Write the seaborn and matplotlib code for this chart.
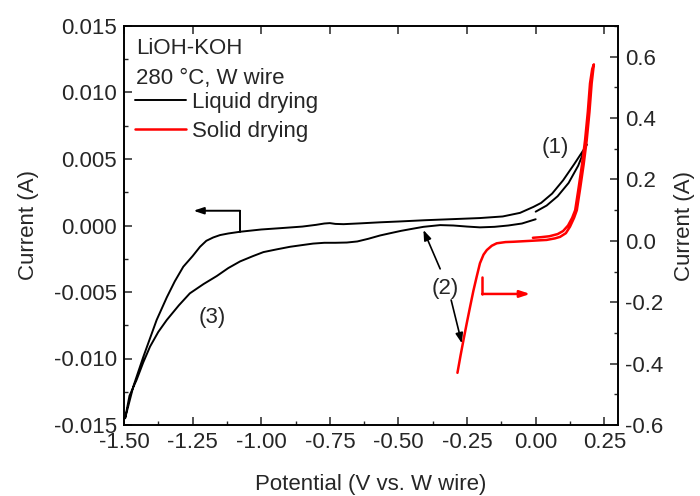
import numpy as np
import pandas as pd
import matplotlib
matplotlib.use("Agg")
import matplotlib.pyplot as plt
from matplotlib.ticker import MultipleLocator, FormatStrFormatter
import seaborn as sns

# ---- data ----
black_v = [0.000, 0.040, 0.080, 0.120, 0.155, 0.186,
           0.175, 0.140, 0.100, 0.060, 0.020, -0.008, -0.057, -0.120, -0.203, -0.300,
           -0.400, -0.500, -0.567, -0.640, -0.700, -0.730, -0.750, -0.770, -0.800,
           -0.850, -0.930, -1.000, -1.077, -1.120, -1.150, -1.175, -1.200, -1.223,
           -1.250, -1.284, -1.315, -1.344, -1.381, -1.430, -1.466, -1.496,
           -1.480, -1.454, -1.430, -1.405, -1.375, -1.344, -1.300, -1.260, -1.210,
           -1.162, -1.120, -1.077, -1.030, -0.992, -0.945, -0.895, -0.850, -0.811,
           -0.770, -0.730, -0.688, -0.650, -0.610, -0.567, -0.530, -0.490, -0.450,
           -0.409, -0.348, -0.300, -0.250, -0.203, -0.150, -0.100, -0.050, 0.000]
black_i = [0.00104, 0.00150, 0.00220, 0.00320, 0.00450, 0.00610,
           0.00570, 0.00460, 0.00340, 0.00240, 0.00170, 0.00140, 0.00095, 0.00068,
           0.00056, 0.00048, 0.00040, 0.00030, 0.00024, 0.00016, 0.00010, 0.00012,
           0.00018, 0.00015, 0.00005, -0.00008, -0.00020, -0.00030, -0.00047,
           -0.00060, -0.00072, -0.00090, -0.00115, -0.00160, -0.00230, -0.00310,
           -0.00420, -0.00540, -0.00710, -0.00990, -0.01210, -0.01450,
           -0.01280, -0.01160, -0.01030, -0.00910, -0.00800, -0.00710, -0.00600,
           -0.00510, -0.00440, -0.00380, -0.00320, -0.00270, -0.00230, -0.00200,
           -0.00180, -0.00160, -0.00147, -0.00136, -0.00130, -0.00130, -0.00128,
           -0.00120, -0.00100, -0.00075, -0.00058, -0.00040, -0.00025, -0.00010,
           0.00003, 0.00000, -0.00008, -0.00014, -0.00010, 0.00000, 0.00015, 0.00047]

red_v = [-0.285, -0.274, -0.263, -0.251, -0.239, -0.227, -0.215, -0.203, -0.190,
         -0.178, -0.160, -0.142, -0.110, -0.081, -0.020, 0.040, 0.070, 0.089,
         0.110, 0.125, 0.140, 0.150, 0.162, 0.175, 0.186, 0.196, 0.204, 0.212,
         0.206, 0.198, 0.190, 0.180, 0.169, 0.156, 0.144, 0.133, 0.118, 0.100,
         0.080, 0.050, 0.020, -0.010]
red_i = [-0.430, -0.375, -0.323, -0.268, -0.215, -0.163, -0.117, -0.073, -0.045,
         -0.030, -0.016, -0.008, -0.004, -0.003, 0.000, 0.003, 0.008, 0.013,
         0.025, 0.046, 0.075, 0.100, 0.170, 0.250, 0.328, 0.420, 0.513, 0.575,
         0.560, 0.513, 0.420, 0.328, 0.250, 0.170, 0.100, 0.075, 0.050, 0.032,
         0.022, 0.015, 0.012, 0.010]

series_labels = ["Liquid drying", "Solid drying"]
x_ticks = [-1.50, -1.25, -1.00, -0.75, -0.50, -0.25, 0.00, 0.25]
left_ticks = [-0.015, -0.010, -0.005, 0.000, 0.005, 0.010, 0.015]
right_ticks = [-0.6, -0.4, -0.2, 0.0, 0.2, 0.4, 0.6]

# ---- style ----
sns.set_style("ticks")
plt.rcParams["font.family"] = ["Liberation Sans", "DejaVu Sans"]
plt.rcParams["axes.unicode_minus"] = False
FS = 16

fig = plt.figure(figsize=(7.0, 4.96), dpi=100)
ax = fig.add_axes([124 / 700, 1 - 425 / 496, 494 / 700, 399 / 496])
ax2 = ax.twinx()

df_black = pd.DataFrame({"V": black_v, "I": black_i})
df_red = pd.DataFrame({"V": red_v, "I": red_i})

sns.lineplot(data=df_black, x="V", y="I", sort=False, estimator=None,
             color="black", lw=1.4, ax=ax)
sns.lineplot(data=df_red, x="V", y="I", sort=False, estimator=None,
             color="#ff0000", lw=1.8, ax=ax2)
h_black = ax.lines[-1]
h_red = ax2.lines[-1]

ax.set_xlim(-1.5, 0.3)
ax.set_ylim(-0.015, 0.015)
ax2.set_ylim(-0.6, 0.7)

ax.set_xticks(x_ticks)
ax.set_yticks(left_ticks)
ax2.set_yticks(right_ticks)
ax.xaxis.set_major_formatter(FormatStrFormatter("%.2f"))
ax.yaxis.set_major_formatter(FormatStrFormatter("%.3f"))
ax2.yaxis.set_major_formatter(FormatStrFormatter("%.1f"))
ax.xaxis.set_minor_locator(MultipleLocator(0.125))
ax.yaxis.set_minor_locator(MultipleLocator(0.0025))
ax2.yaxis.set_minor_locator(MultipleLocator(0.1))

for a in (ax, ax2):
    for s in a.spines.values():
        s.set_linewidth(1.2)
        s.set_color("black")
ax.tick_params(axis="x", which="major", direction="in", top=True, length=6,
               width=1.1, labelsize=FS, pad=5)
ax.tick_params(axis="x", which="minor", direction="in", top=False, length=3, width=1.0)
ax.tick_params(axis="y", which="major", direction="in", right=False, length=6,
               width=1.1, labelsize=FS, pad=5)
ax.tick_params(axis="y", which="minor", direction="in", right=False, length=3, width=1.0)
ax2.tick_params(axis="y", which="major", direction="in", length=6, width=1.1,
                labelsize=FS, pad=5)
ax2.tick_params(axis="y", which="minor", direction="in", length=3, width=1.0)

ax.set_xlabel("Potential (V vs. W wire)", fontsize=FS, labelpad=15)
ax.set_ylabel("Current (A)", fontsize=FS, labelpad=11)
ax2.set_ylabel("Current (A)", fontsize=FS, labelpad=8, rotation=90)

# text block and legend
ax.text(0.024, 0.944, "LiOH-KOH", transform=ax.transAxes, fontsize=FS,
        ha="left", va="center")
ax.text(0.024, 0.869, "280 \u00b0C, W wire", transform=ax.transAxes, fontsize=FS,
        ha="left", va="center")
leg = ax2.legend([h_black, h_red], series_labels, loc="upper left",
                 bbox_to_anchor=(0.022, 0.835), frameon=False, fontsize=FS,
                 handlelength=2.3, handletextpad=0.26, labelspacing=0.36,
                 borderpad=0, borderaxespad=0)

# annotations
ax.text(0.071, 0.0059, "(1)", fontsize=FS, ha="center", va="center")
ax.text(-0.330, -0.0047, "(2)", fontsize=FS, ha="center", va="center")
ax.text(-1.179, -0.00688, "(3)", fontsize=FS, ha="center", va="center")

arrow_kw = dict(arrowstyle="-|>,head_length=0.6,head_width=0.22", color="black",
                lw=1.2, shrinkA=0, shrinkB=0)
ax.annotate("", xy=(-0.409, -0.00034), xytext=(-0.348, -0.00326), arrowprops=arrow_kw)
ax.annotate("", xy=(-0.269, -0.00886), xytext=(-0.308, -0.0056), arrowprops=arrow_kw)

# axis-direction arrows
ax.plot([-1.077, -1.077], [-0.00047, 0.00111], color="black", lw=1.4)
ax.annotate("", xy=(-1.247, 0.00111), xytext=(-1.077, 0.00111),
            arrowprops=dict(arrowstyle="-|>,head_length=0.6,head_width=0.2",
                            color="black", lw=1.4, shrinkA=0, shrinkB=0))
ax2.plot([-0.195, -0.195], [-0.119, -0.173], color="#ff0000", lw=1.8)
ax2.annotate("", xy=(-0.020, -0.173), xytext=(-0.195, -0.173),
             arrowprops=dict(arrowstyle="-|>,head_length=0.6,head_width=0.2",
                             color="#ff0000", lw=1.8, shrinkA=0, shrinkB=0))

fig.savefig("out.png", dpi=100)
